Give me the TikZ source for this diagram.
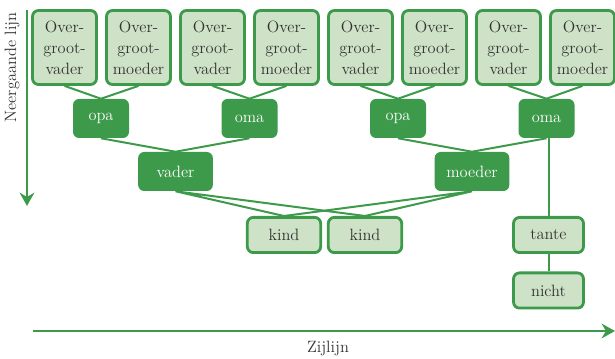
\documentclass[tikz,border=0pt]{standalone}
\usepackage{xcolor,tikz}
\usetikzlibrary{positioning,arrows.meta}
\definecolor{stamgroen}{RGB}{60,154,74}
\definecolor{lichtgroen}{RGB}{205,226,198}
\tikzset{>={Stealth[length=10pt,width=11pt]}}
\tikzset{
  letter/.style={font=\fontsize{12.3}{15.75}\selectfont},
  voorouder/.style={letter, draw=stamgroen, line width=2.1pt, fill=lichtgroen,
    rounded corners=4.5pt, minimum width=48pt, minimum height=55.5pt,
    align=center, inner sep=1pt, text=black!80},
  ouder/.style={letter, fill=stamgroen, text=white, rounded corners=4.5pt,
    minimum height=29.25pt, inner sep=1pt},
  familie/.style={letter, draw=stamgroen, line width=2.1pt, fill=lichtgroen,
    rounded corners=4.5pt, minimum width=52.5pt, minimum height=26.4pt,
    inner sep=1pt, text=black!80},
  tak/.style={draw=stamgroen, line width=1.5pt},
  as/.style={draw=stamgroen, line width=1.8pt, ->},
}

\begin{document}
\begin{tikzpicture}[x=0.75pt, y=-0.75pt]
        \useasboundingbox (0,0) rectangle (615,359);
        %%%% overgrootouders
        \foreach \i/\wie in {1/vader,2/moeder,3/vader,4/moeder,5/vader,6/moeder,7/vader,8/moeder}
            \node[voorouder] (og\i) at ({64.5+74*(\i-1)},47.5) {Over-\\groot-\\\wie};
        %%%% grootouders
        \node[ouder, minimum width=42pt] (opa1) at (101,118.5) {opa};
        \node[ouder, minimum width=42pt] (oma1) at (249.5,118.5) {oma};
        \node[ouder, minimum width=42pt] (opa2) at (398,118.5) {opa};
        \node[ouder, minimum width=42pt] (oma2) at (546.5,118.5) {oma};
        %%%% ouders
        \node[ouder, minimum width=56pt] (vader) at (175.5,171.5) {vader};
        \node[ouder, minimum width=56pt] (moeder) at (472,171.5) {moeder};
        %%%% kinderen en zijlijn
        \node[familie, minimum width=55pt] (kind1) at (284,235) {kind};
        \node[familie, minimum width=55pt] (kind2) at (365,235) {kind};
        \node[familie] (tante) at (548.5,235) {tante};
        \node[familie] (nicht) at (548.5,290.5) {nicht};
        %%%% takken
        \draw[tak] (og1.south) -- (opa1.north) -- (og2.south);
        \draw[tak] (og3.south) -- (oma1.north) -- (og4.south);
        \draw[tak] (og5.south) -- (opa2.north) -- (og6.south);
        \draw[tak] (og7.south) -- (oma2.north) -- (og8.south);
        \draw[tak] (opa1.south) -- (vader.north) -- (oma1.south);
        \draw[tak] (opa2.south) -- (moeder.north) -- (oma2.south);
        \draw[tak] (kind1.north) -- (vader.south) -- (kind2.north);
        \draw[tak] (kind1.north) -- (moeder.south) -- (kind2.north);
        \draw[tak] (tante.north) -- (tante.north |- oma2.south);
        \draw[tak] (tante) -- (nicht);
        %%%% assen
        \coordinate (neer0) at (27,10);
        \coordinate (neer1) at (27,206);
        \coordinate (zij0) at (33,331);
        \coordinate (zij1) at (615,331);
        \draw[as] (neer0) -- (neer1);
        \draw[as] (zij0) -- (zij1);
        \node[letter, rotate=90, anchor=east, text=black!80] (neerlabel) at (12,8) {Neergaande lijn};
        \node[letter, text=black!80] (zijlabel) at (328,348) {Zijlijn};
    \end{tikzpicture}
\end{document}
